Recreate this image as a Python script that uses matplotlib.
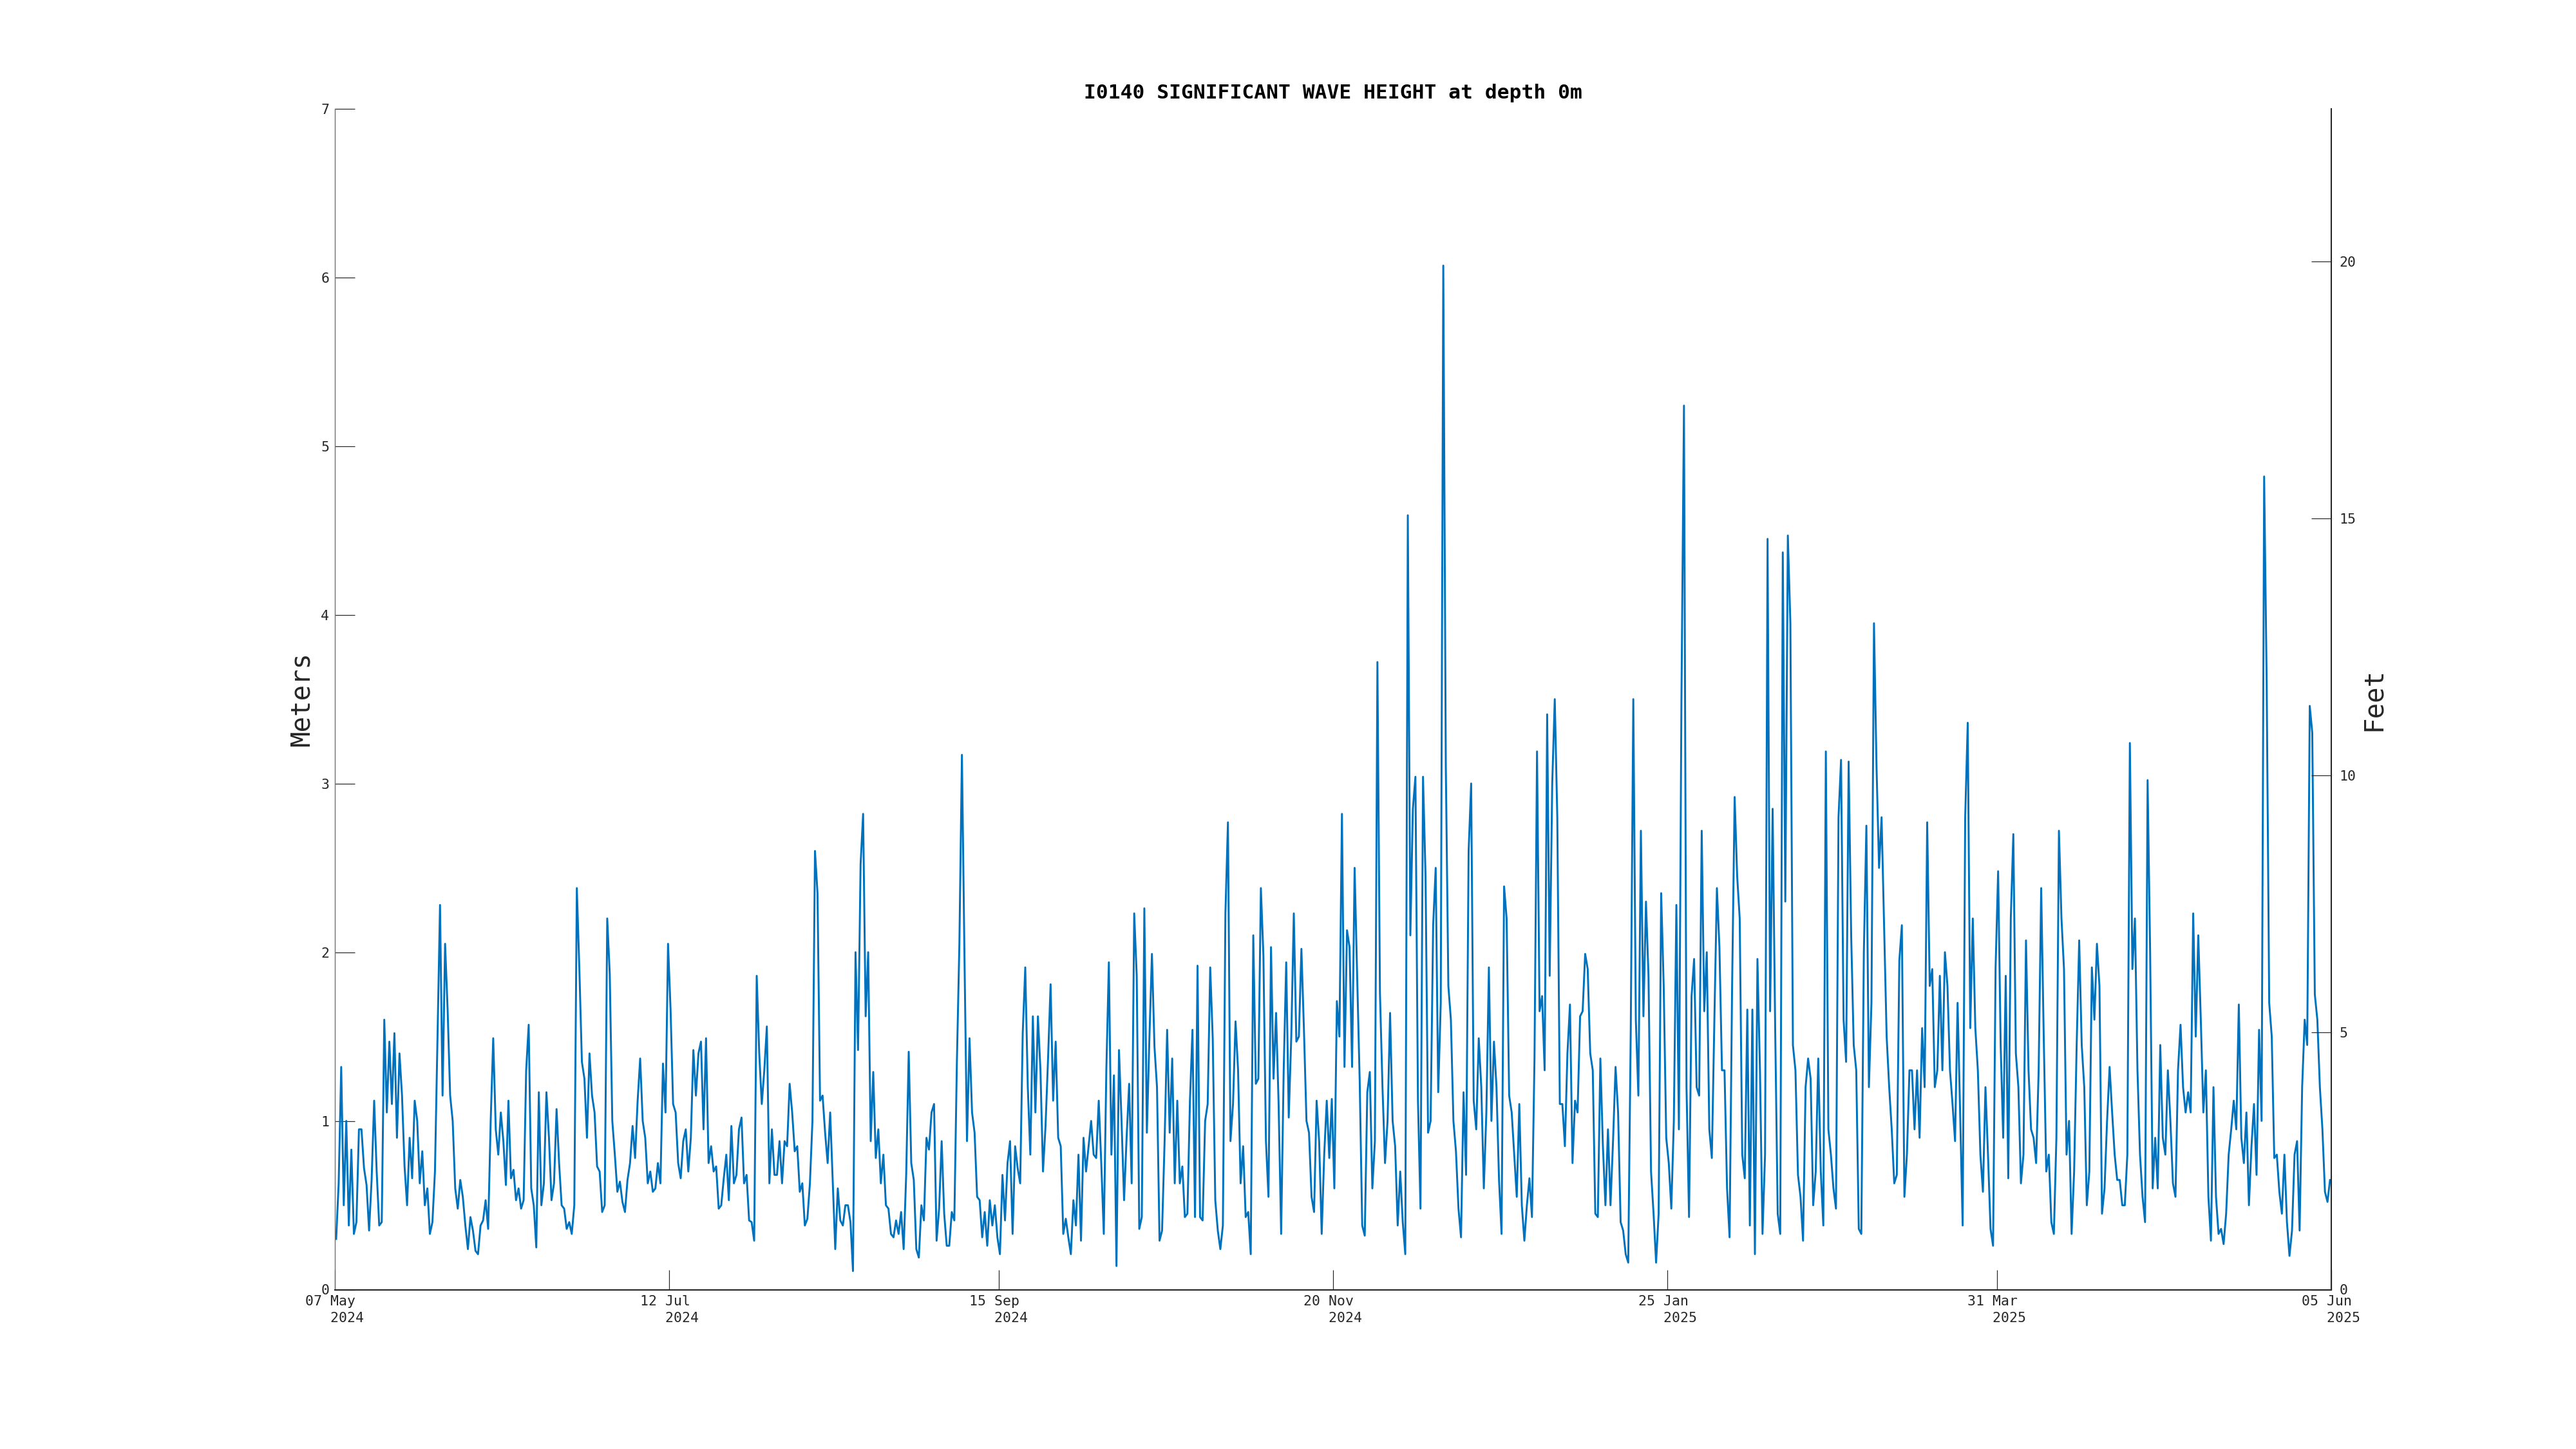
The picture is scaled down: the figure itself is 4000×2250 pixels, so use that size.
import numpy as np
import matplotlib
matplotlib.use('Agg')
import matplotlib.pyplot as plt

# Significant wave height (m), two readings per day (06h and 18h), split by tick interval
hs_may_jul = [
    0.3, 0.63, 1.32, 0.5, 1.0, 0.38, 0.83, 0.33, 0.4, 0.95, 0.95, 0.72, 0.62, 0.35, 0.65, 1.12, 0.7, 0.38, 0.4, 1.6,
    1.05, 1.47, 1.1, 1.52, 0.9, 1.4, 1.15, 0.73, 0.5, 0.9, 0.66, 1.12, 1.0, 0.63, 0.82, 0.5, 0.6, 0.33, 0.4, 0.7,
    1.5, 2.28, 1.15, 2.05, 1.66, 1.15, 1.0, 0.6, 0.48, 0.65, 0.55, 0.38, 0.24, 0.43, 0.35, 0.23, 0.21, 0.38, 0.41, 0.53,
    0.36, 1.0, 1.49, 0.95, 0.8, 1.05, 0.88, 0.62, 1.12, 0.66, 0.71, 0.53, 0.6, 0.48, 0.53, 1.3, 1.57, 0.6, 0.5, 0.25,
    1.17, 0.5, 0.63, 1.17, 0.9, 0.53, 0.63, 1.07, 0.75, 0.5, 0.48, 0.36, 0.4, 0.33, 0.5, 2.38, 1.9, 1.35, 1.25, 0.9,
    1.4, 1.15, 1.05, 0.73, 0.7, 0.46, 0.5, 2.2, 1.87, 1.0, 0.8, 0.58, 0.64, 0.52, 0.46, 0.65, 0.75, 0.97, 0.78, 1.12,
    1.37, 1.0, 0.9, 0.63, 0.7, 0.58, 0.6, 0.75, 0.63, 1.34, 1.05, 2.05,
]
hs_jul_sep = [
    1.66, 1.1, 1.05, 0.75, 0.66, 0.88, 0.95, 0.7,
    0.9, 1.42, 1.15, 1.4, 1.47, 0.95, 1.49, 0.75, 0.85, 0.7, 0.73, 0.48, 0.5, 0.66, 0.8, 0.53, 0.97, 0.63, 0.68, 0.95,
    1.02, 0.63, 0.68, 0.41, 0.4, 0.29, 1.86, 1.4, 1.1, 1.3, 1.56, 0.63, 0.95, 0.68, 0.68, 0.88, 0.63, 0.88, 0.85, 1.22,
    1.05, 0.82, 0.85, 0.58, 0.63, 0.38, 0.42, 0.63, 1.0, 2.6, 2.35, 1.12, 1.15, 0.93, 0.75, 1.05, 0.65, 0.24, 0.6, 0.41,
    0.38, 0.5, 0.5, 0.4, 0.11, 2.0, 1.42, 2.52, 2.82, 1.62, 2.0, 0.88, 1.29, 0.78, 0.95, 0.63, 0.8, 0.5, 0.48, 0.33,
    0.31, 0.41, 0.33, 0.46, 0.24, 0.68, 1.41, 0.75, 0.65, 0.24, 0.19, 0.5, 0.41, 0.9, 0.83, 1.05, 1.1, 0.29, 0.48, 0.88,
    0.45, 0.26, 0.26, 0.46, 0.41, 1.34, 2.05, 3.17, 1.98, 0.88, 1.49, 1.05, 0.93, 0.55, 0.53, 0.31, 0.46, 0.26, 0.53, 0.38,
    0.5, 0.31,
]
hs_sep_nov = [
    0.21, 0.68, 0.41, 0.75, 0.88, 0.33, 0.85, 0.72, 0.63, 1.52, 1.91, 1.2, 0.8, 1.62, 1.05, 1.62, 1.3, 0.7,
    0.97, 1.37, 1.81, 1.12, 1.47, 0.9, 0.85, 0.33, 0.42, 0.31, 0.21, 0.53, 0.38, 0.8, 0.29, 0.9, 0.7, 0.85, 1.0, 0.8,
    0.78, 1.12, 0.75, 0.33, 1.3, 1.94, 0.8, 1.27, 0.14, 1.42, 1.0, 0.53, 0.9, 1.22, 0.63, 2.23, 1.86, 0.36, 0.43, 2.26,
    0.93, 1.49, 1.99, 1.44, 1.2, 0.29, 0.35, 0.88, 1.54, 0.93, 1.37, 0.63, 1.12, 0.63, 0.73, 0.43, 0.45, 1.12, 1.54, 0.43,
    1.92, 0.43, 0.41, 1.0, 1.1, 1.91, 1.49, 0.53, 0.35, 0.24, 0.38, 2.23, 2.77, 0.88, 1.1, 1.59, 1.3, 0.63, 0.85, 0.43,
    0.46, 0.21, 2.1, 1.22, 1.25, 2.38, 1.98, 0.88, 0.55, 2.03, 1.25, 1.64, 1.1, 0.33, 1.3, 1.94, 1.02, 1.5, 2.23, 1.47,
    1.5, 2.02, 1.54, 1.0, 0.93, 0.55, 0.46, 1.12, 0.88, 0.33, 0.8, 1.12, 0.78, 1.13,
]
hs_nov_jan = [
    0.6, 1.71, 1.5, 2.82, 1.32, 2.13,
    2.03, 1.32, 2.5, 1.86, 1.24, 0.38, 0.32, 1.17, 1.29, 0.6, 0.88, 3.72, 1.76, 1.2, 0.75, 1.0, 1.64, 1.0, 0.85, 0.38,
    0.7, 0.4, 0.21, 4.59, 2.1, 2.85, 3.04, 1.12, 0.48, 3.04, 2.45, 0.93, 1.0, 2.16, 2.5, 1.17, 1.7, 6.07, 3.1, 1.8,
    1.6, 1.0, 0.82, 0.48, 0.31, 1.17, 0.68, 2.6, 3.0, 1.12, 0.95, 1.49, 1.2, 0.6, 1.05, 1.91, 1.0, 1.47, 1.2, 0.65,
    0.33, 2.39, 2.2, 1.15, 1.05, 0.8, 0.55, 1.1, 0.5, 0.29, 0.5, 0.66, 0.43, 1.37, 3.19, 1.65, 1.74, 1.3, 3.41, 1.86,
    3.0, 3.5, 2.8, 1.1, 1.1, 0.85, 1.4, 1.69, 0.75, 1.12, 1.05, 1.62, 1.65, 1.99, 1.9, 1.4, 1.3, 0.45, 0.43, 1.37,
    0.85, 0.5, 0.95, 0.5, 0.88, 1.32, 1.05, 0.4, 0.35, 0.21, 0.16, 1.55, 3.5, 1.6, 1.15, 2.72, 1.62, 2.3, 1.86, 0.7,
    0.45, 0.16, 0.45, 2.35, 1.8, 0.9,
]
hs_jan_mar = [
    0.75, 0.48, 1.0, 2.28, 0.95, 3.5, 5.24, 1.2, 0.43, 1.74, 1.96, 1.2, 1.15, 2.72,
    1.65, 2.0, 0.95, 0.78, 1.6, 2.38, 2.03, 1.3, 1.3, 0.6, 0.31, 1.8, 2.92, 2.45, 2.2, 0.8, 0.66, 1.66, 0.38, 1.66,
    0.21, 1.96, 1.3, 0.33, 0.8, 4.45, 1.65, 2.85, 1.55, 0.45, 0.33, 4.37, 2.3, 4.47, 3.95, 1.45, 1.3, 0.68, 0.55, 0.29,
    1.2, 1.37, 1.25, 0.5, 0.7, 1.37, 0.7, 0.38, 3.19, 0.95, 0.8, 0.6, 0.48, 2.8, 3.14, 1.6, 1.35, 3.13, 2.1, 1.45,
    1.3, 0.36, 0.33, 2.0, 2.75, 1.2, 1.7, 3.95, 3.1, 2.5, 2.8, 2.15, 1.5, 1.2, 0.95, 0.63, 0.68, 1.95, 2.16, 0.55,
    0.8, 1.3, 1.3, 0.95, 1.3, 0.9, 1.55, 1.2, 2.77, 1.8, 1.9, 1.2, 1.3, 1.86, 1.3, 2.0, 1.8, 1.3, 1.1, 0.88,
    1.7, 1.05, 0.38, 2.8, 3.36, 1.55, 2.2, 1.55, 1.3, 0.8, 0.58, 1.2, 0.8, 0.36, 0.26, 1.91,
]
hs_mar_jun = [
    2.48, 1.45, 0.9, 1.86,
    0.66, 2.2, 2.7, 1.4, 1.2, 0.63, 0.8, 2.07, 1.3, 0.95, 0.9, 0.75, 1.3, 2.38, 1.5, 0.7, 0.8, 0.4, 0.33, 0.9,
    2.72, 2.2, 1.9, 0.8, 1.0, 0.33, 0.7, 1.45, 2.07, 1.45, 1.2, 0.5, 0.7, 1.91, 1.6, 2.05, 1.8, 0.45, 0.6, 1.0,
    1.32, 1.05, 0.8, 0.65, 0.65, 0.5, 0.5, 0.8, 3.24, 1.9, 2.2, 1.3, 0.8, 0.55, 0.4, 3.02, 2.0, 0.6, 0.9, 0.6,
    1.45, 0.9, 0.8, 1.3, 1.0, 0.63, 0.55, 1.3, 1.57, 1.2, 1.05, 1.17, 1.05, 2.23, 1.5, 2.1, 1.6, 1.05, 1.3, 0.55,
    0.29, 1.2, 0.55, 0.33, 0.36, 0.27, 0.45, 0.8, 0.95, 1.12, 0.95, 1.69, 0.9, 0.75, 1.05, 0.5, 0.85, 1.1, 0.68, 1.54,
    1.0, 4.82, 3.6, 1.7, 1.5, 0.78, 0.8, 0.58, 0.45, 0.8, 0.4, 0.2, 0.35, 0.8, 0.88, 0.35, 1.2, 1.6, 1.45, 3.46,
    3.3, 1.75, 1.6, 1.2, 0.95, 0.58, 0.52, 0.65,
]

tick_dates = ['2024-05-07', '2024-07-12', '2024-09-15', '2024-11-20', '2025-01-25', '2025-03-31', '2025-06-05']
tick_labels = ['07 May\n   2024', '12 Jul\n   2024', '15 Sep\n   2024', '20 Nov\n   2024',
               '25 Jan\n   2025', '31 Mar\n   2025', '05 Jun\n   2025']
m_ticks = [0, 1, 2, 3, 4, 5, 6, 7]
ft_ticks = [0, 5, 10, 15, 20]

hs = np.array(hs_may_jul + hs_jul_sep + hs_sep_nov + hs_nov_jan + hs_jan_mar + hs_mar_jun)
t = np.datetime64('2024-05-07T06:00') + np.arange(len(hs)) * np.timedelta64(12, 'h')
ticks = np.array(tick_dates, dtype='datetime64[D]')

plt.rcParams['font.family'] = 'DejaVu Sans Mono'
dark = '#262626'

fig = plt.figure(figsize=(16, 9), dpi=250)
ax = fig.add_axes([0.13, 0.11, 0.775, 0.815])
ax.plot(t, hs, color='#0072BD', lw=0.85)

ax.set_xlim(ticks[0], ticks[-1])
ax.set_ylim(0, 7)
ax.set_yticks(m_ticks)
ax.set_xticks(ticks)
ax.set_xticklabels(tick_labels, multialignment='left', linespacing=1.35)
ax.tick_params(direction='in', length=8.9, width=0.35, labelsize=6.2, colors=dark, pad=2.5)
ax.spines['top'].set_visible(False)
ax.spines['right'].set_visible(False)
ax.spines['left'].set_color('#707070')
ax.spines['left'].set_linewidth(0.4)
ax.spines['bottom'].set_color(dark)
ax.spines['bottom'].set_linewidth(0.6)
ax.set_ylabel('Meters', fontsize=11.7, color=dark)
ax.yaxis.set_label_coords(-0.010, 0.5)
ax.set_title('I0140 SIGNIFICANT WAVE HEIGHT at depth 0m', fontsize=9, fontweight='bold', pad=4.5)

# right axis in feet
ax2 = ax.twinx()
ax2.set_ylim(0, 7 * 3.28084)
ax2.set_yticks(ft_ticks)
ax2.tick_params(direction='in', length=8.9, width=0.35, labelsize=6.2, colors=dark, pad=3.5)
for s in ['top', 'left', 'bottom']:
    ax2.spines[s].set_visible(False)
ax2.spines['right'].set_color(dark)
ax2.spines['right'].set_linewidth(0.6)
ax2.set_ylabel('Feet', fontsize=11.7, color=dark)
ax2.yaxis.set_label_coords(1.0148, 0.5)

fig.savefig('out.png', dpi=250, facecolor='white')
